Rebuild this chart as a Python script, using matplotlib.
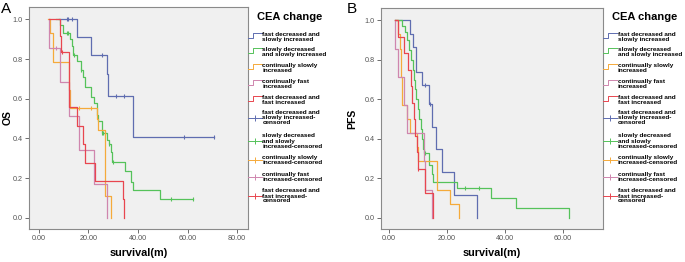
import numpy as np
import matplotlib
matplotlib.use("Agg")
import matplotlib.pyplot as plt
from matplotlib.lines import Line2D

plt.rcParams["font.family"] = ["Liberation Sans", "DejaVu Sans"]

W, H = 685, 262

# ---- data (time in months, survival fraction) ----
groups = ["fast decreased and slowly increased",
          "slowly decreased and slowly increased",
          "continually slowly increased",
          "continually fast increased",
          "fast decreased and fast increased"]
colors = ["#5F6DB0", "#55C25A", "#F5AA3A", "#CF86AE", "#E8464F"]

# OS (panel A)
os_t = [
    [8.0, 15.2, 20.9, 27.3, 28.0, 38.1, 70.8],
    [7.0, 8.5, 9.8, 12.5, 13.2, 13.9, 15.2, 16.8, 17.6, 18.8, 20.9, 22.3, 23.3,
     23.6, 24.0, 25.3, 27.6, 28.3, 28.9, 29.4, 34.7, 37.0, 37.8, 48.9, 62.2],
    [3.8, 4.3, 5.7, 12.0, 12.7, 23.3, 24.0, 26.8, 29.1],
    [4.0, 4.1, 8.5, 12.2, 16.2, 22.4, 27.4],
    [4.0, 8.5, 8.8, 12.1, 15.5, 17.9, 18.6, 22.8, 33.8, 34.3],
]
os_s = [
    [1.0, 0.909, 0.818, 0.727, 0.614, 0.409, 0.409],
    [1.0, 0.97, 0.93, 0.90, 0.865, 0.82, 0.79, 0.745, 0.71, 0.66, 0.61, 0.58, 0.555,
     0.52, 0.486, 0.428, 0.394, 0.37, 0.33, 0.28, 0.234, 0.18, 0.14, 0.094, 0.094],
    [1.0, 0.929, 0.786, 0.643, 0.554, 0.50, 0.444, 0.111, 0.0],
    [1.0, 0.857, 0.686, 0.514, 0.343, 0.171, 0.0],
    [1.0, 0.917, 0.833, 0.556, 0.463, 0.370, 0.278, 0.185, 0.093, 0.0],
]
os_cens = [
    [11.2, 11.6, 13.2, 25.3, 31.0, 34.3, 58.7, 70.8],
    [11.2, 11.9, 14.0, 17.0, 25.5, 26.0, 26.6, 28.4, 30.0, 53.3, 62.2],
    [16.0, 21.0],
    [7.1],
    [9.2],
]

# PFS (panel B)
pfs_t = [
    [2.2, 7.2, 8.2, 9.2, 11.3, 13.6, 14.7, 16.1, 18.4, 22.5, 30.2],
    [2.2, 4.5, 5.5, 6.3, 7.0, 7.6, 8.2, 8.7, 9.0, 9.4, 9.9, 10.4, 10.9, 11.3,
     11.8, 12.0, 13.6, 14.7, 15.3, 23.3, 35.2, 43.7, 62.1],
    [2.2, 3.0, 3.8, 4.0, 4.2, 4.4, 4.6, 6.2, 7.2, 9.5, 9.8, 16.4, 21.0, 24.1],
    [2.0, 2.1, 3.2, 5.3, 6.0, 11.9, 12.3, 14.9],
    [2.2, 3.2, 5.0, 6.5, 7.5, 8.0, 8.6, 9.0, 9.6, 9.8, 12.4, 15.3],
]
pfs_s = [
    [1.0, 0.933, 0.867, 0.74, 0.673, 0.576, 0.46, 0.347, 0.23, 0.115, 0.0],
    [1.0, 0.97, 0.94, 0.90, 0.85, 0.80, 0.75, 0.70, 0.65, 0.60, 0.55, 0.50, 0.45, 0.40,
     0.35, 0.33, 0.27, 0.22, 0.18, 0.15, 0.10, 0.05, 0.0],
    [1.0, 0.929, 0.857, 0.786, 0.714, 0.643, 0.571, 0.50, 0.429, 0.357, 0.286, 0.143, 0.071, 0.0],
    [1.0, 0.857, 0.714, 0.571, 0.429, 0.286, 0.143, 0.0],
    [1.0, 0.917, 0.833, 0.75, 0.667, 0.583, 0.50, 0.417, 0.333, 0.25, 0.125, 0.0],
]
pfs_cens = [
    [12.5, 14.2],
    [12.4, 26.3, 30.9],
    [],
    [],
    [10.1],
]

legend_labels = [
    "fast decreased and\nslowly increased",
    "slowly decreased\nand slowly increased",
    "continually slowly\nincreased",
    "continually fast\nincreased",
    "fast decreased and\nfast increased",
    "fast decreased and\nslowly increased-\ncensored",
    "slowly decreased\nand slowly\nincreased-censored",
    "continually slowly\nincreased-censored",
    "continually fast\nincreased-censored",
    "fast decreased and\nfast increased-\ncensored",
]
legend_y = [37, 52, 68, 84, 100, 118, 141, 160, 177, 196]


def km_panel(ax, times, surv, cens, xmax_ticks, xlim, ylabel, ylab_x):
    ax.set_facecolor("#F0F0F0")
    for t, s, c, col in zip(times, surv, cens, colors):
        ax.step(t, s, where="post", color=col, lw=0.9)
        if c:
            idx = np.searchsorted(t, c, side="right") - 1
            cy = np.array(s)[idx]
            ax.plot(c, cy, ls="none", marker="|", ms=3.5, mew=0.8, color=col)
    ax.set_xlim(*xlim)
    ax.set_ylim(-0.056, 1.062)
    ax.set_yticks(np.arange(0, 1.01, 0.2))
    ax.set_yticklabels(["%.1f" % v for v in np.arange(0, 1.01, 0.2)])
    xt = np.arange(0, xmax_ticks + 1, 20)
    ax.set_xticks(xt)
    ax.set_xticklabels(["%.2f" % v for v in xt])
    ax.tick_params(labelsize=5.2, colors="#555555", length=3, width=0.6, pad=1.5)
    for sp in ax.spines.values():
        sp.set_color("#8a8a8a")
        sp.set_linewidth(0.8)
    ax.set_xlabel("survival(m)", fontsize=7.8, fontweight="bold", labelpad=4)
    ax.set_ylabel(ylabel, fontsize=7.5, fontweight="bold")
    ax.yaxis.set_label_coords(ylab_x, 0.5)


def legend(fig, x0):
    fig.text((x0 + 42) / W, 1 - 17 / H, "CEA change", fontsize=8,
             fontweight="bold", ha="center", va="center")
    for i, (lab, yc) in enumerate(zip(legend_labels, legend_y)):
        col = colors[i % 5]
        if i < 5:
            xs = np.array([x0, x0 + 5, x0 + 5, x0 + 14])
            ys = np.array([yc + 1, yc + 1, yc - 4, yc - 4])
            fig.add_artist(Line2D(xs / W, 1 - ys / H, color=col, lw=0.7))
        else:
            fig.add_artist(Line2D([x0 / W, (x0 + 14) / W], [1 - yc / H] * 2,
                                  color=col, lw=0.7))
            fig.add_artist(Line2D([(x0 + 7) / W], [1 - yc / H], color=col,
                                  marker="|", ms=4, mew=0.7))
        fig.text((x0 + 14.5) / W, 1 - yc / H, lab, fontsize=4.55, fontweight="bold",
                 ha="left", va="center", linespacing=1.0)


fig = plt.figure(figsize=(W / 100, H / 100), dpi=100)
axA = fig.add_axes([29 / W, 1 - 229 / H, 219 / W, 222 / H])
axB = fig.add_axes([381 / W, 1 - 229 / H, 222 / W, 221 / H])

km_panel(axA, os_t, os_s, os_cens, 80, (-4.0, 84.4), "OS", -0.075)
km_panel(axB, pfs_t, pfs_s, pfs_cens, 60, (-2.8, 73.8), "PFS", -0.105)

legend(fig, 248)
legend(fig, 603)

fig.text(1 / W, 1 - 9 / H, "A", fontsize=11, ha="left", va="center")
fig.text(347 / W, 1 - 9 / H, "B", fontsize=11, ha="left", va="center")

fig.savefig("out.png", dpi=100, facecolor="white")
